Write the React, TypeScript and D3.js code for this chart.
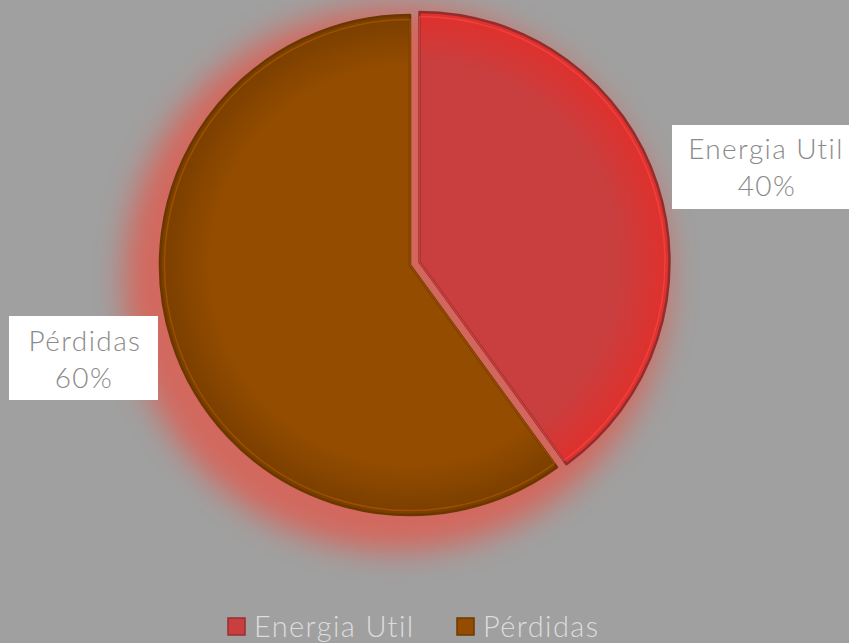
import React from 'react'
import * as d3 from 'd3'

const categories = ['Energia Util', 'Pérdidas']
const values = [40, 60]
const percentLabels = ['40%', '60%']
const colors = ['#c93e3e', '#934c00']
const edgeColors = ['#e0302c', '#7a3e00']

const W = 849
const H = 643
const FONT = '"Century Gothic", Lato, "DejaVu Sans", sans-serif'

export default function App() {
	const cx = 410
	const cy = 265
	const r = 250
	const pie = d3.pie<number>().sort(null).value(d => d)
	const arcs = pie(values)
	const arc = d3.arc<d3.PieArcDatum<number>>().innerRadius(0).outerRadius(r)
	const explode = [10, 0]

	return (
		<svg width={W} height={H} style={{position: 'absolute', left: 0, top: 0, background: '#a0a0a0'}}>
			<defs>
				<filter id="glow" x="-40%" y="-40%" width="180%" height="180%">
					<feGaussianBlur stdDeviation="15" />
				</filter>
				{arcs.map((a, i) => (
					<radialGradient key={i} id={`g${i}`} cx={0} cy={0} r={r} gradientUnits="userSpaceOnUse">
						<stop offset="0.8" stopColor={colors[i]} />
						<stop offset="1" stopColor={edgeColors[i]} />
					</radialGradient>
				))}
			</defs>
			<rect width={W} height={H} fill="#a0a0a0" />
			<circle cx={cx - 14} cy={cy + 14} r={r + 22} fill="#e05a4e" opacity={0.8} filter="url(#glow)" />
			{arcs.map((a, i) => {
				const mid = (a.startAngle + a.endAngle) / 2
				const dx = Math.sin(mid) * explode[i]
				const dy = -Math.cos(mid) * explode[i]
				return (
					<g key={i} transform={`translate(${cx + dx},${cy + dy})`}>
						<path d={arc(a) || ''} fill={`url(#g${i})`} stroke={d3.color(colors[i])!.darker(0.9).toString()} strokeWidth={2.5} strokeLinejoin="round" />
						<path d={arc(a) || ''} fill="none" stroke={d3.color(colors[i])!.brighter(0.7).toString()} strokeWidth={1.5} strokeOpacity={0.5} transform="scale(0.982)" />
					</g>
				)
			})}
			{/* data labels */}
			<g fontFamily={FONT} fontSize={28} fontWeight={300} letterSpacing={1.4} fill="#8a8a8a" textAnchor="middle">
				<rect x={672} y={125} width={190} height={84} fill="#fff" />
				<text x={766} y={159}>{categories[0]}</text>
				<text x={767} y={196}>{percentLabels[0]}</text>
				<rect x={9} y={316} width={149} height={84} fill="#fff" />
				<text x={85} y={351}>{categories[1]}</text>
				<text x={84} y={388}>{percentLabels[1]}</text>
			</g>
			{/* legend */}
			<g fontFamily={FONT} fontSize={29} fontWeight={300} letterSpacing={1.4} fill="#dcdcdc">
				{categories.map((c, i) => {
					const x = i === 0 ? 228 : 457
					return (
						<g key={c}>
							<rect x={x} y={618} width={17} height={17} fill={colors[i]} stroke={d3.color(colors[i])!.darker(0.8).toString()} strokeWidth={1.5} />
							<text x={x + 26} y={637}>{c}</text>
						</g>
					)
				})}
			</g>
		</svg>
	)
}
